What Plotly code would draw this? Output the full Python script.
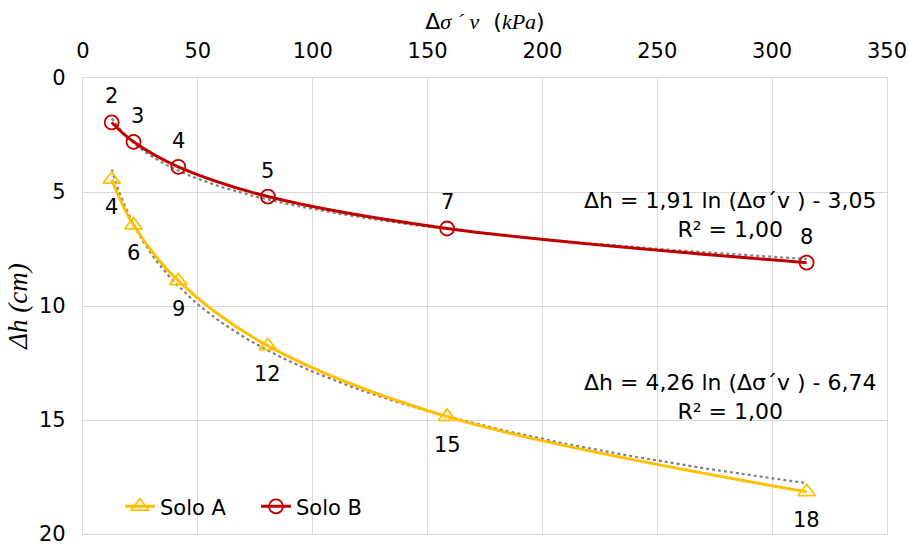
import numpy as np
import plotly.graph_objects as go

# Data
x_stress = [12.5, 22.0, 41.5, 80.5, 158.5, 315.0]
solo_a = [4.45, 6.45, 8.9, 11.75, 14.85, 18.15]
solo_b = [1.95, 2.8, 3.9, 5.2, 6.6, 8.1]
# logarithmic trendline coefficients shown on the chart (slope, intercept)
trend_a = [4.26, -6.74]
trend_b = [1.91, -3.05]
r2_a = 1.00
r2_b = 1.00
x_ticks = [0, 50, 100, 150, 200, 250, 300, 350]
y_ticks = [0, 5, 10, 15, 20]

FONT = "DejaVu Sans, Verdana, sans-serif"
SERIF = "Liberation Serif"
FS = 21
COL_A = "#FFC000"
COL_B = "#C00000"
TREND = "#7F7F7F"

fig = go.Figure()

def trend(xv, coef):
    xs = np.linspace(min(xv), max(xv), 120)
    return xs, coef[0] * np.log(xs) + coef[1]

xa, ya = trend(x_stress, trend_a)
xb, yb = trend(x_stress, trend_b)

fig.add_trace(go.Scatter(x=xa, y=ya, mode="lines", line=dict(color=TREND, width=2.2, dash="dot"),
                         showlegend=False, hoverinfo="skip"))
fig.add_trace(go.Scatter(x=xb, y=yb, mode="lines", line=dict(color=TREND, width=2.2, dash="dot"),
                         showlegend=False, hoverinfo="skip"))

fig.add_trace(go.Scatter(
    x=x_stress, y=solo_a, name="Solo A", mode="lines+markers",
    line=dict(color=COL_A, width=3, shape="spline"),
    marker=dict(symbol="triangle-up-open", size=15, color=COL_A, line=dict(width=1.8, color=COL_A))))
fig.add_trace(go.Scatter(
    x=x_stress, y=solo_b, name="Solo B", mode="lines+markers",
    line=dict(color=COL_B, width=3, shape="spline"),
    marker=dict(symbol="circle-open", size=14, color=COL_B, line=dict(width=1.8, color=COL_B))))

for xv, yv in zip(x_stress, solo_a):
    fig.add_annotation(x=xv, y=yv, text=f"{yv:.0f}", showarrow=False, yshift=-28,
                       font=dict(family=FONT, size=FS, color="#000000"))
for i, (xv, yv) in enumerate(zip(x_stress, solo_b)):
    fig.add_annotation(x=xv, y=yv, text=f"{yv:.0f}", showarrow=False, yshift=26,
                       xshift=4 if i == 1 else 0,
                       font=dict(family=FONT, size=FS, color="#000000"))

def fmt(v):
    return f"{v:.2f}".replace(".", ",")

eq_b = f"Δh = {fmt(trend_b[0])} ln (Δσ´v ) - {fmt(-trend_b[1])}<br>R² = {fmt(r2_b)}"
eq_a = f"Δh = {fmt(trend_a[0])} ln (Δσ´v ) - {fmt(-trend_a[1])}<br>R² = {fmt(r2_a)}"
fig.add_annotation(xref="paper", yref="paper", x=0.99, y=0.7, text=eq_b, showarrow=False,
                   xanchor="right", yanchor="middle", align="center",
                   font=dict(family=FONT, size=FS + 1, color="#000000"))
fig.add_annotation(xref="paper", yref="paper", x=0.99, y=0.3, text=eq_a, showarrow=False,
                   xanchor="right", yanchor="middle", align="center",
                   font=dict(family=FONT, size=FS + 1, color="#000000"))

def it(s):
    return f"<i><span style='font-family:{SERIF}'>{s}</span></i>"

fig.update_layout(
    width=908, height=547,
    margin=dict(l=83, r=21, t=78, b=13, autoexpand=False),
    paper_bgcolor="white", plot_bgcolor="white",
    font=dict(family=FONT, size=FS, color="#000000"),
    xaxis=dict(side="top", range=[0, 350], tickvals=x_ticks, showgrid=True, gridcolor="#D9D9D9",
               gridwidth=1.3, zeroline=False, showline=True, linecolor="#D9D9D9", linewidth=1.3, mirror=True,
               ticks="", ticklabelstandoff=10, automargin=False, ticklabeloverflow="allow",
               title=dict(text="Δ" + it("σ ´ v") + "  (" + it("kPa") + ")",
                          font=dict(family=FONT, size=FS + 1), standoff=3)),
    yaxis=dict(range=[20, 0], tickvals=y_ticks, showgrid=True, gridcolor="#D9D9D9", gridwidth=1.3,
               zeroline=False, showline=True, linecolor="#D9D9D9", linewidth=1.3, mirror=True,
               ticks="", ticklabelstandoff=12, automargin=False, ticklabeloverflow="allow",
               title=dict(text=it("Δh (cm)"), font=dict(family=FONT, size=FS + 6), standoff=3)),
    legend=dict(orientation="h", x=0.046, y=0.015, xanchor="left", yanchor="bottom",
                bgcolor="rgba(255,255,255,0)", font=dict(family=FONT, size=FS),
                itemwidth=30, tracegroupgap=0, entrywidth=91, entrywidthmode="pixels"),
    showlegend=True,
)

fig.write_html("out.html", post_script="document.body.style.margin='0';",
               config={"displayModeBar": False})
